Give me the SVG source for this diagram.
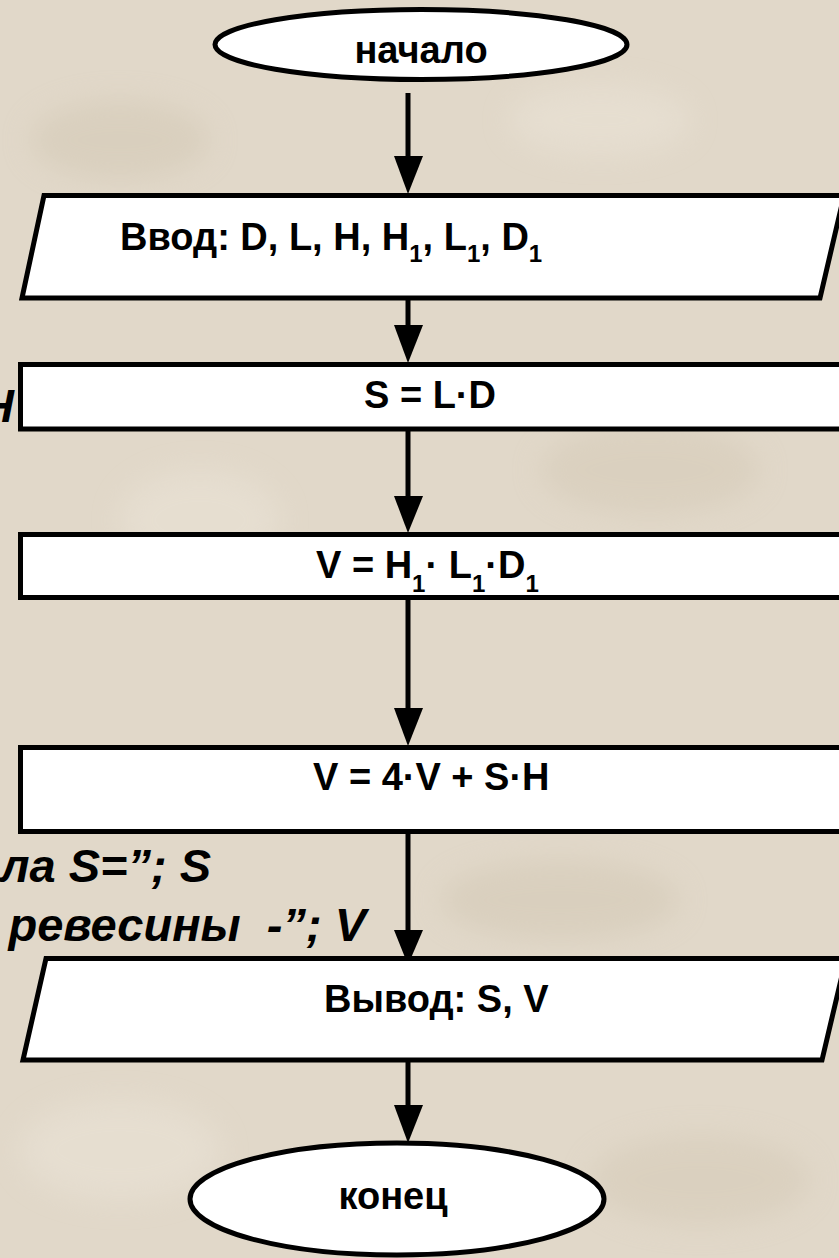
<svg xmlns="http://www.w3.org/2000/svg" width="839" height="1258" viewBox="0 0 839 1258">
  <defs>
    <filter id="blur" x="-50%" y="-50%" width="200%" height="200%">
      <feGaussianBlur stdDeviation="14"/>
    </filter>
  </defs>
  <style>
    .shape { fill: #ffffff; stroke: #000000; stroke-width: 5; }
    .lbl { font-family: "Liberation Sans", Arial, sans-serif; font-weight: bold; font-size: 38px; fill: #000000; }
    .sub { font-size: 24px; }
    .side { font-family: "Liberation Sans", Arial, sans-serif; font-weight: bold; font-style: italic; font-size: 47px; fill: #000000; }
    .line { stroke: #000000; stroke-width: 5; fill: none; }
    .head { fill: #000000; stroke: none; }
  </style>

  <!-- background -->
  <rect x="0" y="0" width="839" height="1258" fill="#e1d8c9"/>
  <g filter="url(#blur)" opacity="0.5">
    <ellipse cx="120" cy="140" rx="90" ry="40" fill="#d2c7b4"/>
    <ellipse cx="650" cy="470" rx="110" ry="45" fill="#d4c9b6"/>
    <ellipse cx="200" cy="520" rx="80" ry="50" fill="#ebe4d8"/>
    <ellipse cx="560" cy="900" rx="120" ry="40" fill="#d2c7b4"/>
    <ellipse cx="120" cy="1150" rx="100" ry="50" fill="#ebe4d8"/>
    <ellipse cx="700" cy="1180" rx="110" ry="45" fill="#d4c9b6"/>
    <ellipse cx="600" cy="120" rx="90" ry="35" fill="#ebe4d8"/>
  </g>

  <!-- partially hidden background program text -->
  <g id="bgtext">
    <text class="side" x="14" y="422" text-anchor="end">H</text>
    <text class="side" x="211" y="882" text-anchor="end">ла S=”; S</text>
    <text class="side" x="366" y="941" text-anchor="end" xml:space="preserve">ревесины  -”; V</text>
  </g>

  <!-- connectors -->
  <g id="connectors">
    <line class="line" x1="408" y1="93" x2="408" y2="160"/>
    <polygon class="head" points="394,156 423,156 408,194"/>

    <line class="line" x1="408" y1="300" x2="408" y2="330"/>
    <polygon class="head" points="394,325 423,325 408,363"/>

    <line class="line" x1="408" y1="431" x2="408" y2="500"/>
    <polygon class="head" points="394,496 423,496 408,533"/>

    <line class="line" x1="408" y1="600" x2="408" y2="712"/>
    <polygon class="head" points="394,708 423,708 408,746"/>

    <line class="line" x1="408" y1="833" x2="408" y2="935"/>
    <polygon class="head" points="394,930 423,930 408,965"/>

    <line class="line" x1="408" y1="1062" x2="408" y2="1110"/>
    <polygon class="head" points="394,1105 423,1105 408,1143"/>
  </g>

  <g id="start">
    <ellipse class="shape" cx="421" cy="44.5" rx="206" ry="35"/>
    <text class="lbl" x="421" y="63" text-anchor="middle">начало</text>
  </g>

  <g id="input">
    <polygon class="shape" points="44,195.5 844,195.5 820,298 22,298"/>
    <text class="lbl" x="120" y="250">Ввод: D, L, H, H<tspan class="sub" dy="12">1</tspan><tspan dy="-12">, L</tspan><tspan class="sub" dy="12">1</tspan><tspan dy="-12">, D</tspan><tspan class="sub" dy="12">1</tspan></text>
  </g>

  <g id="calcS">
    <rect class="shape" x="20.5" y="364.5" width="830" height="64.5"/>
    <text class="lbl" x="364" y="408">S = L·D</text>
  </g>

  <g id="calcV1">
    <rect class="shape" x="20.5" y="534.5" width="830" height="63"/>
    <text class="lbl" x="316" y="578">V = H<tspan class="sub" dy="14">1</tspan><tspan dy="-14">· L</tspan><tspan class="sub" dy="14">1</tspan><tspan dy="-14">·D</tspan><tspan class="sub" dy="14">1</tspan></text>
  </g>

  <g id="calcV2">
    <rect class="shape" x="20.5" y="747.5" width="830" height="84"/>
    <text class="lbl" x="313" y="790">V = 4·V + S·H</text>
  </g>

  <g id="output">
    <polygon class="shape" points="46,958.5 846,958.5 822,1060 23,1060"/>
    <text class="lbl" x="324" y="1012">Вывод: S, V</text>
  </g>

  <g id="end">
    <ellipse class="shape" cx="397" cy="1199" rx="207" ry="56"/>
    <text class="lbl" x="393" y="1209" text-anchor="middle">конец</text>
  </g>
</svg>
